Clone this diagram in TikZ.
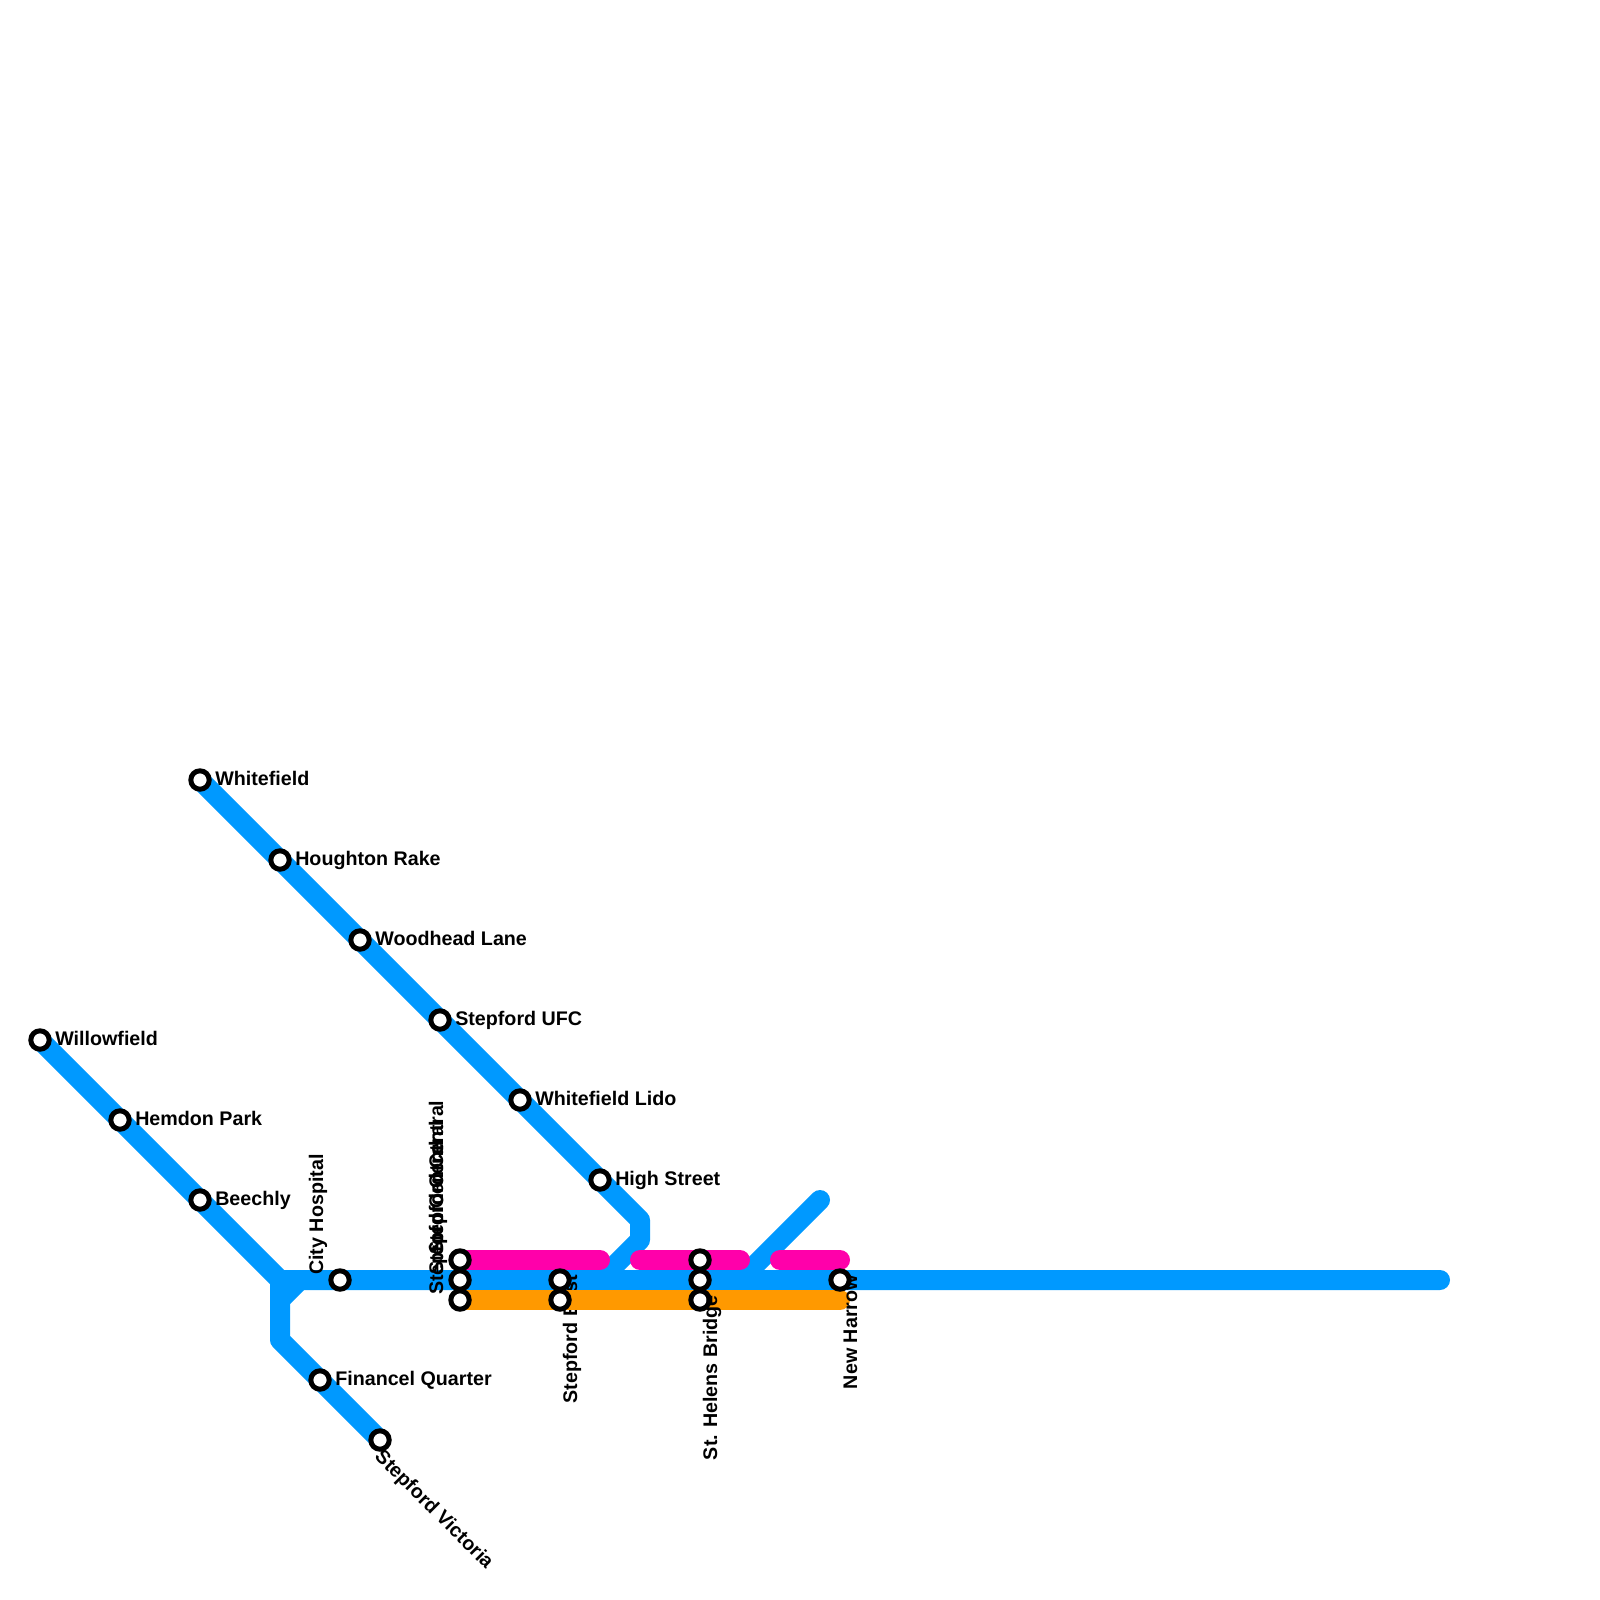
\documentclass[tikz,border=0pt]{standalone}
\usepackage{fontspec}
\setmainfont{Liberation Sans}
\usetikzlibrary{backgrounds}
\definecolor{lineblue}{RGB}{0,153,255}
\definecolor{linepink}{RGB}{255,0,170}
\definecolor{lineorange}{RGB}{255,153,0}

\begin{document}
\begin{tikzpicture}[
		x = 0.5cm, % one grid square
		y = 0.5cm,
		node distance = 2.8284cm, % two grid steps along a diagonal
		font=\bfseries\fontsize{14}{14}\selectfont,
		station/.style = {circle, draw = black, line width = 0.125cm, fill = white, minimum size = 0.46cm, inner sep = 0pt},
		rightlabel/.style = {anchor = base west, inner sep = 0pt, xshift = 0.375cm, yshift = -0.125cm},
		uplabel/.style = {rotate = 90, anchor = base west, inner sep = 0pt, xshift = 0.125cm, yshift = 0.425cm},
		downlabel/.style = {rotate = 90, anchor = base east, inner sep = 0pt, xshift = 0.125cm, yshift = -0.425cm},
		slantlabel/.style = {rotate = -45, anchor = base west, inner sep = 0pt, xshift = 0.2cm, yshift = -0.42cm},
		metroline/.style = {line width = 0.5cm, line cap = round, line join = round}
		]
		
		\useasboundingbox (0,0) rectangle (80,-80);
		
		% stations
		\node[station] (willowfield) at (2,-52) {};
		\node[station] (hemdon) [below right of=willowfield] {};
		\node[station] (beechly) [below right of=hemdon] {};
		
		\node[station] (whitefield) at (10,-39) {};
		\node[station] (houghton) [below right of=whitefield] {};
		\node[station] (woodhead) [below right of=houghton] {};
		\node[station] (ufc) [below right of=woodhead] {};
		\node[station] (lido) [below right of=ufc] {};
		\node[station] (highstreet) [below right of=lido] {};
		
		\node[station] (cityhospital) at (17,-64) {};
		\node[station] (financel) at (16,-69) {};
		\node[station] (victoria) at (19,-72) {};
		
		\node[station] (centralpink) at (23,-63) {};
		\node[station] (centralblue) at (23,-64) {};
		\node[station] (centralorange) at (23,-65) {};
		\node[station] (eastblue) at (28,-64) {};
		\node[station] (eastorange) at (28,-65) {};
		\node[station] (helenspink) at (35,-63) {};
		\node[station] (helensblue) at (35,-64) {};
		\node[station] (helensorange) at (35,-65) {};
		\node[station] (newharrow) at (42,-64) {};
		
		% free ends and bends of the lines
		\coordinate (junction) at (14,-64);
		\coordinate (forkdown) at (14,-65);
		\coordinate (forkup) at (15,-64);
		\coordinate (bendlow) at (14,-67);
		\coordinate (highbend) at (32,-61);
		\coordinate (highfoot) at (32,-62);
		\coordinate (highjoin) at (30,-64);
		\coordinate (spurtop) at (41,-60);
		\coordinate (spurjoin) at (37,-64);
		\coordinate (blueend) at (72,-64);
		\coordinate (pinkstop) at (30,-63);
		\coordinate (pinkmid) at (32,-63);
		\coordinate (pinkgap) at (37,-63);
		\coordinate (pinklast) at (39,-63);
		\coordinate (pinkend) at (42,-63);
		\coordinate (orangeend) at (42,-65);
		
		\begin{scope}[on background layer]
			\draw[metroline, lineblue] (willowfield.center) -- (hemdon.center) -- (beechly.center) -- (junction) -- (cityhospital.center) -- (centralblue.center) -- (eastblue.center) -- (helensblue.center) -- (newharrow.center) -- (blueend);
			\draw[metroline, lineblue] (whitefield.center) -- (houghton.center) -- (woodhead.center) -- (ufc.center) -- (lido.center) -- (highstreet.center) -- (highbend) -- (highfoot) -- (highjoin);
			\draw[metroline, lineblue] (spurtop) -- (spurjoin);
			\draw[metroline, lineblue] (junction) -- (bendlow) -- (financel.center) -- (victoria.center);
			\draw[metroline, lineblue] (forkdown) -- (forkup);
			
			\node[downlabel] (eastlabel) at (eastblue.center) {Stepford East};
			
			\draw[metroline, linepink] (centralpink.center) -- (pinkstop);
			\draw[metroline, linepink] (pinkmid) -- (helenspink.center) -- (pinkgap);
			\draw[metroline, linepink] (pinklast) -- (pinkend);
			\draw[metroline, lineorange] (centralorange.center) -- (eastorange.center) -- (helensorange.center) -- (orangeend);
		\end{scope}
		
		% labels
		\node[rightlabel] (willowfieldlabel) at (willowfield.center) {Willowfield};
		\node[rightlabel] (hemdonlabel) at (hemdon.center) {Hemdon Park};
		\node[rightlabel] (beechlylabel) at (beechly.center) {Beechly};
		\node[rightlabel] (whitefieldlabel) at (whitefield.center) {Whitefield};
		\node[rightlabel] (houghtonlabel) at (houghton.center) {Houghton Rake};
		\node[rightlabel] (woodheadlabel) at (woodhead.center) {Woodhead Lane};
		\node[rightlabel] (ufclabel) at (ufc.center) {Stepford UFC};
		\node[rightlabel] (lidolabel) at (lido.center) {Whitefield Lido};
		\node[rightlabel] (highstreetlabel) at (highstreet.center) {High Street};
		\node[rightlabel] (financellabel) at (financel.center) {Financel Quarter};
		\node[slantlabel] (victorialabel) at (victoria.center) {Stepford Victoria};
		\node[uplabel] (cityhospitallabel) at (cityhospital.center) {City Hospital};
		\node[uplabel] (centrallabel1) at (centralpink.center) {Stepford Central};
		\node[uplabel] (centrallabel2) at (centralblue.center) {Stepford Central};
		\node[uplabel] (centrallabel3) at (centralorange.center) {Stepford Central};
		\node[downlabel] (helenslabel) at (helensorange.center) {St. Helens Bridge};
		\node[downlabel] (newharrowlabel) at (newharrow.center) {New Harrow};
	\end{tikzpicture}
\end{document}
